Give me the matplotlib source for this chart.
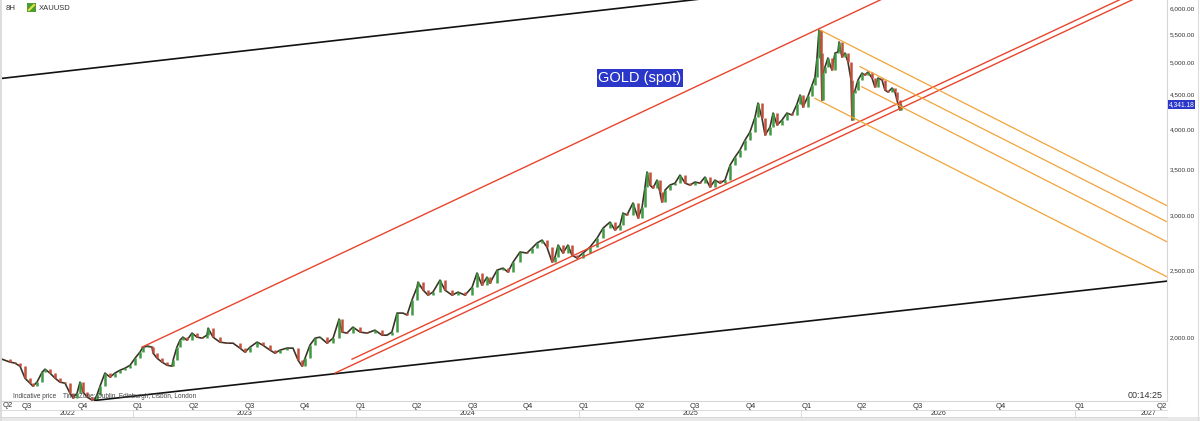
import matplotlib
matplotlib.use('Agg')
import matplotlib.pyplot as plt
import matplotlib.transforms as mtransforms
from matplotlib.lines import Line2D
from matplotlib.patches import Rectangle
from matplotlib.ticker import NullLocator
import numpy as np

plt.rcParams['font.family'] = ['Liberation Sans', 'DejaVu Sans']

# chart time in decimal years, closing prices (USD)
dates = [
    2022.412, 2022.448, 2022.470, 2022.493, 2022.515, 2022.538, 2022.551, 2022.569, 2022.592, 2022.605,
    2022.627, 2022.650, 2022.672, 2022.695, 2022.717, 2022.731, 2022.749, 2022.762, 2022.776, 2022.794,
    2022.816, 2022.829, 2022.838, 2022.852, 2022.874, 2022.897, 2022.919, 2022.942, 2022.964, 2022.987,
    2023.009, 2023.031, 2023.045, 2023.067, 2023.085, 2023.090, 2023.108, 2023.130, 2023.153, 2023.175,
    2023.180, 2023.197, 2023.211, 2023.224, 2023.242, 2023.265, 2023.287, 2023.310, 2023.332, 2023.337,
    2023.359, 2023.390, 2023.422, 2023.449, 2023.480, 2023.503, 2023.525, 2023.557, 2023.583, 2023.615,
    2023.637, 2023.660, 2023.691, 2023.718, 2023.741, 2023.759, 2023.772, 2023.794, 2023.817, 2023.839,
    2023.871, 2023.898, 2023.925, 2023.938, 2023.960, 2023.987, 2024.019, 2024.050, 2024.086, 2024.118,
    2024.140, 2024.162, 2024.185, 2024.212, 2024.230, 2024.252, 2024.275, 2024.279, 2024.302, 2024.324,
    2024.346, 2024.378, 2024.400, 2024.432, 2024.459, 2024.490, 2024.522, 2024.544, 2024.566, 2024.589,
    2024.602, 2024.634, 2024.661, 2024.683, 2024.706, 2024.737, 2024.768, 2024.791, 2024.813, 2024.836,
    2024.858, 2024.881, 2024.894, 2024.908, 2024.930, 2024.952, 2024.970, 2024.993, 2025.020, 2025.051,
    2025.083, 2025.110, 2025.141, 2025.163, 2025.186, 2025.199, 2025.217, 2025.244, 2025.267, 2025.285,
    2025.298, 2025.307, 2025.320, 2025.334, 2025.352, 2025.365, 2025.374, 2025.388, 2025.410, 2025.433,
    2025.455, 2025.478, 2025.500, 2025.522, 2025.545, 2025.567, 2025.590, 2025.612, 2025.635, 2025.657,
    2025.680, 2025.702, 2025.724, 2025.747, 2025.769, 2025.792, 2025.805, 2025.823, 2025.837, 2025.859,
    2025.873, 2025.891, 2025.913, 2025.935, 2025.958, 2025.980, 2025.994, 2026.007, 2026.030, 2026.048,
    2026.061, 2026.070, 2026.079, 2026.088, 2026.092, 2026.097, 2026.106, 2026.119, 2026.137, 2026.151,
    2026.164, 2026.169, 2026.182, 2026.196, 2026.209, 2026.223, 2026.227, 2026.232, 2026.241, 2026.254,
    2026.272, 2026.285, 2026.299, 2026.317, 2026.330, 2026.344, 2026.362, 2026.375, 2026.389, 2026.407,
    2026.420, 2026.429, 2026.442, 2026.447,
]
closes = [
    1858, 1840, 1834, 1815, 1744, 1715, 1698, 1721, 1779, 1797,
    1774, 1744, 1721, 1715, 1659, 1632, 1659, 1721, 1665, 1637,
    1621, 1626, 1648, 1698, 1774, 1750, 1774, 1791, 1803, 1821,
    1864, 1902, 1934, 1941, 1934, 1896, 1864, 1840, 1821, 1815,
    1852, 1934, 1980, 2000, 1980, 2027, 2000, 1993, 2013, 2061,
    2000, 1967, 1960, 1960, 1928, 1902, 1934, 1967, 1947, 1915,
    1896, 1915, 1928, 1928, 1852, 1815, 1864, 1947, 1993, 2000,
    1960, 1993, 2124, 2034, 2027, 2068, 2034, 2027, 2047, 2013,
    2013, 2034, 2167, 2167, 2153, 2263, 2363, 2403, 2340, 2301,
    2324, 2419, 2340, 2301, 2324, 2301, 2363, 2477, 2379, 2443,
    2395, 2501, 2518, 2485, 2569, 2657, 2648, 2692, 2737, 2765,
    2701, 2569, 2612, 2719, 2648, 2719, 2630, 2604, 2648, 2701,
    2784, 2878, 2936, 2859, 2907, 3026, 3006, 3129, 2976, 3087,
    3300, 3470, 3322, 3289, 3378, 3245, 3139, 3267, 3322, 3344,
    3435, 3344, 3322, 3356, 3344, 3412, 3300, 3378, 3344, 3378,
    3552, 3648, 3734, 3861, 3965, 4169, 4368, 4155, 3926, 4032,
    4225, 4059, 4128, 4225, 4197, 4353, 4487, 4310, 4472, 4639,
    4764, 5077, 5574, 5162, 4412, 4828, 4927, 5077, 4877, 5162,
    5180, 5356, 5094, 5162, 5010, 4717, 4128, 4517, 4562, 4717,
    4828, 4796, 4845, 4749, 4608, 4749, 4717, 4562, 4532, 4593,
    4532, 4412, 4268, 4341.18,
]

# drawn trend lines: ([t0, t1], [p0, p1])
black_top = ([2022.403, 2025.994], [4740, 6420])
black_bottom = ([2022.829, 2027.641], [1619, 2411])
red_upper = ([2023.040, 2026.442], [1934, 6356])
red_lower_a = ([2023.983, 2027.641], [1858, 6641])
red_lower_b = ([2023.907, 2027.641], [1774, 6509])
orange_lines = [
    ([2026.084, 2027.641], [5574, 3101]),
    ([2026.263, 2027.641], [4932, 2939]),
    ([2026.271, 2027.641], [4613, 2749]),
    ([2026.061, 2027.641], [4437, 2446]),
]

price_ticks = [2000, 2500, 3000, 3500, 4000, 4500, 5000, 5500, 6000]
quarter_ticks = [2022.5, 2022.75, 2023.0, 2023.25, 2023.5, 2023.75, 2024.0, 2024.25,
                 2024.5, 2024.75, 2025.0, 2025.25, 2025.5, 2025.75, 2026.0, 2026.25,
                 2026.5, 2026.8725, 2027.228, 2027.596]
quarter_labels = ['Q3', 'Q4', 'Q1', 'Q2', 'Q3', 'Q4', 'Q1', 'Q2', 'Q3', 'Q4',
                  'Q1', 'Q2', 'Q3', 'Q4', 'Q1', 'Q2', 'Q3', 'Q4', 'Q1', 'Q2']
years = [2022, 2023, 2024, 2025, 2026, 2027]
year_starts = [2023.0, 2024.0, 2025.0, 2026.0, 2027.228]

W, H = 1200, 421
fig = plt.figure(figsize=(W / 100, H / 100), dpi=100)
ax = fig.add_axes([2 / W, 1 - 401 / H, 1165 / W, 401 / H])
ax.set_yscale('log')
x0, x1 = 2022.412, 2027.641
ax.set_xlim(x0, x1)
ax.set_ylim(1616, 6162)

# candles (open = previous close)
c = np.array(closes, dtype=float)
o = np.r_[c[0], c[:-1]]
cols = np.where(c >= o, '#3f9a42', '#c4503c')
ax.plot(dates, closes, color='#3b3428', lw=1.2, zorder=3)
ax.vlines(dates, np.minimum(o, c), np.maximum(o, c), colors=cols, lw=1.8, zorder=4)

# trend lines
for xs, ys in [black_top, black_bottom]:
    ax.plot(xs, ys, color='#111111', lw=1.2, zorder=5)
for xs, ys in [red_upper, red_lower_a, red_lower_b]:
    ax.plot(xs, ys, color='#e8452c', lw=1.0, zorder=5)
for xs, ys in orange_lines:
    ax.plot(xs, ys, color='#f2a33a', lw=0.9, zorder=5)

# axes look
for s in ['top', 'left']:
    ax.spines[s].set_visible(False)
for s in ['right', 'bottom']:
    ax.spines[s].set_color('#d6d6d6')
    ax.spines[s].set_linewidth(0.8)
ax.yaxis.tick_right()
ax.set_yticks(price_ticks)
ax.set_yticklabels([f'{p:,.2f}' for p in price_ticks])
ax.yaxis.set_minor_locator(NullLocator())
ax.tick_params(axis='y', length=0, pad=2, labelsize=4.6, labelcolor='#333333')
ax.set_xticks(quarter_ticks)
ax.set_xticklabels(quarter_labels, ha='left')
ax.tick_params(axis='x', length=0, pad=1.5, labelsize=5.5, labelcolor='#333333')

# labels
ax.text(0.5476, 0.8055, 'GOLD (spot)', transform=ax.transAxes, fontsize=10.5,
        color='white', ha='center', va='center',
        bbox=dict(boxstyle='square,pad=0.12', fc='#2a37c8', ec='none'), zorder=6)
last_tr = mtransforms.blended_transform_factory(ax.transAxes, ax.transData)
ax.text(1.0015, closes[-1], f'{closes[-1]:,.2f}', transform=last_tr, fontsize=4.8,
        color='white', ha='left', va='center', clip_on=False,
        bbox=dict(boxstyle='square,pad=0.15', fc='#2a37c8', ec='none'), zorder=7)

fig.text(6 / W, 1 - 8 / H, '8H', fontsize=5.6, va='center', color='#333333')
fig.add_artist(Rectangle((27 / W, 1 - 12 / H), 9 / W, 9 / H, transform=fig.transFigure,
                         fc='#4a9d2f', ec='none'))
fig.add_artist(Line2D([29 / W, 34 / W], [1 - 10 / H, 1 - 5 / H], transform=fig.transFigure,
                      color='#e6dc4a', lw=1.6))
fig.text(39 / W, 1 - 8 / H, 'XAUUSD', fontsize=5.5, va='center', color='#333333')
fig.text(13 / W, 1 - 397 / H, 'Indicative price', fontsize=4.7, va='center', color='#444444')
fig.text(63 / W, 1 - 397 / H, 'Time Zone: Dublin, Edinburgh, Lisbon, London', fontsize=4.7,
         va='center', color='#444444')
fig.text(1163 / W, 1 - 395 / H, '00:14:25', fontsize=6.5, ha='right', va='center', color='#333333')

# bottom time rows
trans = mtransforms.blended_transform_factory(ax.transData, fig.transFigure)
y_div, y_bot = 1 - 410 / H, 1 - 417 / H
fig.text(3 / W, 1 - 405.5 / H, 'Q2', fontsize=5.5, va='center', color='#333333')
for yy in [y_div, y_bot]:
    fig.add_artist(Line2D([0, 1167 / W], [yy, yy], transform=fig.transFigure,
                          color='#d6d6d6', lw=0.6))
bounds = [x0] + year_starts + [x1 + 0.25]
for i, yr in enumerate(years):
    ax.text((bounds[i] + bounds[i + 1]) / 2, 1 - 413.5 / H, str(yr), transform=trans,
            fontsize=5, ha='center', va='center', color='#333333')
for b in year_starts:
    fig.add_artist(Line2D([b, b], [y_bot, y_div], transform=trans, color='#d6d6d6', lw=0.6))
fig.add_artist(Rectangle((0, 0), 1, 4 / H, transform=fig.transFigure, fc='#e8e8e8', ec='none'))
fig.add_artist(Rectangle((0, 0), 2 / W, 1, transform=fig.transFigure, fc='#dcdcdc', ec='none'))
fig.add_artist(Line2D([1198 / W, 1198 / W], [0, 1], transform=fig.transFigure,
                      color='#dcdcdc', lw=0.8))

fig.savefig('out.png', dpi=100)
